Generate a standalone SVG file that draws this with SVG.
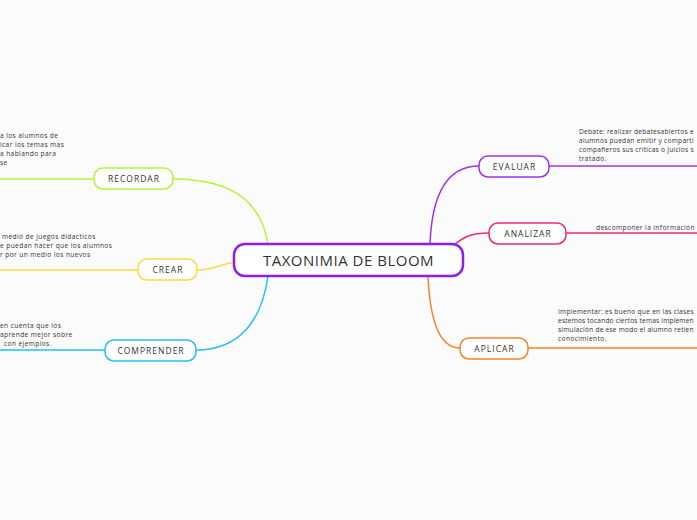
<svg xmlns="http://www.w3.org/2000/svg" width="697" height="520" viewBox="0 0 697 520">
<style>
.lbl{font-family:"Open Sans","Noto Sans",sans-serif;font-size:8.5px;fill:#333;letter-spacing:1px;text-anchor:middle}
.note{font-family:"Open Sans","Noto Sans",sans-serif;font-size:6.6px;fill:#333;letter-spacing:0.4px}
.box{fill:#fff;stroke-width:1.5}
.con{fill:none;stroke-width:1.5}
</style>
<rect width="697" height="520" fill="#fbfbfc"/>
<g id="connectors">
<path class="con" stroke="#b8f23a" d="M0,179 H94"/>
<path class="con" stroke="#b8f23a" d="M173,179 C240,179 262,208 268,244"/>
<path class="con" stroke="#f8dc40" d="M0,270 H138"/>
<path class="con" stroke="#f8dc40" d="M197,270 C214,270 220,264 236,262"/>
<path class="con" stroke="#24c0f5" d="M0,350 H105"/>
<path class="con" stroke="#24c0f5" d="M196,350 C240,350 262,320 268,276"/>
<path class="con" stroke="#a030f0" d="M549,166 H697"/>
<path class="con" stroke="#a030f0" d="M479,166 C448,166 432,192 430,244"/>
<path class="con" stroke="#f0277a" d="M566,233 H697"/>
<path class="con" stroke="#f0277a" d="M489,233 C470,233 463,238 455,244"/>
<path class="con" stroke="#f58225" d="M528,348 H697"/>
<path class="con" stroke="#f58225" d="M460,348 C440,348 430,322 428,276"/>
</g>
<g id="central">
<rect x="234" y="244" width="229" height="32" rx="11" fill="#fff" stroke="#8b1ef5" stroke-width="2.5"/>
<text x="348.5" y="266" font-family="'Open Sans','Noto Sans',sans-serif" font-size="15" letter-spacing="0.5" fill="#333" text-anchor="middle">TAXONIMIA DE BLOOM</text>
</g>
<g id="recordar">
<rect class="box" x="94" y="168" width="79" height="21" rx="9" stroke="#b8f23a"/>
<text class="lbl" x="134" y="181.5">RECORDAR</text>
<text class="note"><tspan x="0" y="137.5">a los alumnos de</tspan><tspan x="0" y="146.7">icar los temas mas</tspan><tspan x="0" y="155.9">a hablando para</tspan><tspan x="0" y="165">se</tspan></text>
</g>
<g id="crear">
<rect class="box" x="138" y="259" width="59" height="21" rx="9" stroke="#f8dc40"/>
<text class="lbl" x="168" y="272.5">CREAR</text>
<text class="note"><tspan x="2" y="239">medio de juegos didacticos</tspan><tspan x="0" y="248">e puedan hacer que los alumnos</tspan><tspan x="0" y="256.8">r por un medio los nuevos</tspan></text>
</g>
<g id="comprender">
<rect class="box" x="105" y="340" width="91" height="21" rx="9" stroke="#24c0f5"/>
<text class="lbl" x="151" y="353.5">COMPRENDER</text>
<text class="note"><tspan x="0" y="327.5">en cuenta que los</tspan><tspan x="0" y="336.5">aprende mejor sobre</tspan><tspan x="4" y="345.5">con ejemplos.</tspan></text>
</g>
<g id="evaluar">
<rect class="box" x="479" y="156" width="70" height="21" rx="9" stroke="#a030f0"/>
<text class="lbl" x="514.5" y="169.5">EVALUAR</text>
<text class="note" x="579" y="134" textLength="115" lengthAdjust="spacing">Debate: realizar debatesabiertos e</text>
<text class="note" x="579" y="143.3" textLength="115" lengthAdjust="spacing">alumnos puedan emitir y comparti</text>
<text class="note" x="579" y="152" textLength="115" lengthAdjust="spacing">compañeros sus criticas o juicios s</text>
<text class="note" x="579" y="161.3">tratado.</text>
</g>
<g id="analizar">
<rect class="box" x="489" y="223" width="77" height="21" rx="9" stroke="#f0277a"/>
<text class="lbl" x="528" y="236.5">ANALIZAR</text>
<text class="note" x="596" y="229.5">descomponer la información</text>
</g>
<g id="aplicar">
<rect class="box" x="460" y="338" width="68" height="21" rx="9" stroke="#f58225"/>
<text class="lbl" x="494.5" y="351.5">APLICAR</text>
<text class="note" x="558" y="314" textLength="136" lengthAdjust="spacing">Implementar: es bueno que en las clases</text>
<text class="note" x="558" y="323" textLength="136" lengthAdjust="spacing">estemos tocando ciertos temas implemen</text>
<text class="note" x="558" y="332.3" textLength="136" lengthAdjust="spacing">simulación de ese modo el alumno retien</text>
<text class="note" x="558" y="340.8">conocimiento.</text>
</g>
</svg>
